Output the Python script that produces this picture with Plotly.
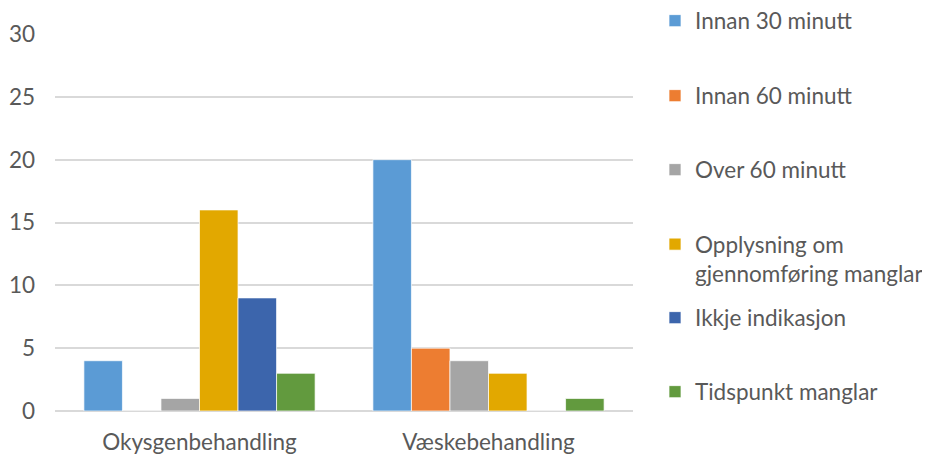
import plotly.graph_objects as go

categories = ["Okysgenbehandling", "Væskebehandling"]
series_names = ["Innan 30 minutt", "Innan 60 minutt", "Over 60 minutt",
                "Opplysning om<br>gjennomføring manglar", "Ikkje indikasjon", "Tidspunkt manglar"]
innan30 = [4, 20]
innan60 = [0, 5]
over60 = [1, 4]
opplysning = [16, 3]
ikkje = [9, 0]
tidspunkt = [3, 1]
values = [innan30, innan60, over60, opplysning, ikkje, tidspunkt]
colors = ["#5B9BD5", "#ED7D31", "#A5A5A5", "#E2A800", "#3C65AC", "#629A3E"]
y_ticks = [0, 5, 10, 15, 20, 25, 30]

FONT = "Lato"
TXT = "#595959"
FS = 22.5

# page body has an 8px margin, so figure coords are offset by 8px
OFF = 8
W, H = 930, 462
L = 55 - OFF
T = 34 - OFF
plot_right = 633 - OFF
plot_bottom = 411 - OFF
R = W - plot_right
B = H - plot_bottom
plot_h = plot_bottom - T
plot_w = plot_right - L
# legend item centres in page pixels
leg_px = [21, 96, 170, 259, 318, 392]

fig = go.Figure()
layout_legends = {}
for i, (name, vals, col) in enumerate(zip(series_names, values, colors)):
    lg = "legend" if i == 0 else f"legend{i+1}"
    fig.add_trace(go.Bar(
        name=name, x=categories, y=vals,
        marker=dict(color=col, line=dict(color="rgba(255,255,255,0.7)", width=1)),
        legend=lg, showlegend=True,
    ))
    ypaper = (plot_bottom - (leg_px[i] - OFF)) / plot_h
    layout_legends[lg] = dict(
        x=(647 - L) / plot_w, xanchor="left",
        y=ypaper, yanchor="middle",
        font=dict(family=FONT, size=FS, color=TXT),
        bgcolor="rgba(0,0,0,0)", valign="top",
        itemclick=False, itemdoubleclick=False,
    )

fig.update_layout(
    width=W, height=H,
    margin=dict(l=L, r=R, t=T, b=B, autoexpand=False),
    paper_bgcolor="white", plot_bgcolor="white",
    barmode="group", bargap=0.2, bargroupgap=0,
    font=dict(family=FONT, size=FS, color=TXT),
    xaxis=dict(showgrid=False, showline=False, ticks="",
               tickfont=dict(family=FONT, size=FS, color=TXT),
               ticklabelstandoff=15),
    yaxis=dict(range=[0, 30], tickvals=y_ticks, showgrid=True,
               gridcolor="#D9D9D9", gridwidth=1.5,
               zeroline=True, zerolinecolor="#D9D9D9", zerolinewidth=1.5,
               showline=False, ticks="",
               tickfont=dict(family=FONT, size=FS, color=TXT),
               ticklabelstandoff=19),
    **layout_legends,
)

fig.write_html("out.html")
